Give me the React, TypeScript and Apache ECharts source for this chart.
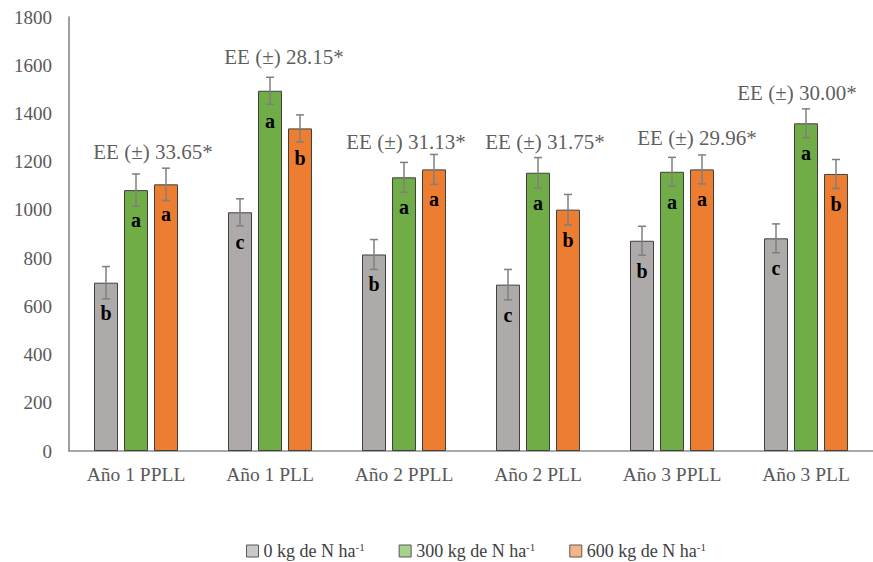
import React, { useEffect, useRef } from "react";
import * as echarts from "echarts";

const categories = ["Año 1 PPLL", "Año 1 PLL", "Año 2 PPLL", "Año 2 PLL", "Año 3 PPLL", "Año 3 PLL"];
const seriesNames = ["0 kg de N ha-1", "300 kg de N ha-1", "600 kg de N ha-1"];
const n0 = [698, 990, 815, 690, 872, 882];
const n300 = [1082, 1494, 1135, 1154, 1158, 1359];
const n600 = [1106, 1338, 1168, 1001, 1168, 1149];
const errors = [67, 56, 62, 63, 60, 60];
const letters0 = ["b", "c", "b", "c", "b", "c"];
const letters300 = ["a", "a", "a", "a", "a", "a"];
const letters600 = ["a", "b", "a", "b", "a", "b"];
const eeLabels = ["EE (±) 33.65*", "EE (±) 28.15*", "EE (±) 31.13*", "EE (±) 31.75*", "EE (±) 29.96*", "EE (±) 30.00*"];
const eeAnchor = [1240, 1634, 1283, 1283, 1298, 1486];
const yTicks = { min: 0, max: 1800, interval: 200 };

const eeShift = [17, 14, 2, 7, 25, -9];
const barColors = ["#AEAAAA", "#70AD47", "#ED7D31"];
const legendColors = ["#C9C9C9", "#A9D18E", "#F6B48A"];
const BAR_W = 24;
const GAP = 0.25;
const FONT = "'Liberation Serif', 'Times New Roman', serif";

export default function App() {
  const ref = useRef<HTMLDivElement>(null);
  useEffect(() => {
    if (!ref.current) return;
    const chart = echarts.init(ref.current, null, { renderer: "svg" });
    const values = [n0, n300, n600];
    const letters = [letters0, letters300, letters600];
    const barSeries = values.map((vals, k) => ({
      name: seriesNames[k],
      type: "bar",
      barWidth: BAR_W,
      barGap: `${GAP * 100}%`,
      data: vals,
      itemStyle: { color: barColors[k], borderColor: "#404040", borderWidth: 1 },
      label: {
        show: true,
        position: "insideTop",
        distance: 20,
        formatter: (p: any) => letters[k][p.dataIndex],
        fontFamily: FONT,
        fontWeight: "bold",
        fontSize: 20,
        color: "#000",
      },
      z: 2,
    }));
    const errData: number[][] = [];
    values.forEach((vals, k) => vals.forEach((v, i) => errData.push([i, v, errors[i], k])));
    const step = BAR_W * (1 + GAP);
    const option: any = {
      animation: false,
      textStyle: { fontFamily: FONT },
      grid: { left: 69, top: 17, width: 815, height: 434, containLabel: false },
      xAxis: {
        type: "category",
        data: categories,
        axisTick: { show: false },
        axisLine: { lineStyle: { color: "#8c8c8c", width: 1.5 } },
        axisLabel: { fontFamily: FONT, fontSize: 19.5, color: "#595959", margin: 13 },
      },
      yAxis: {
        type: "value",
        min: yTicks.min,
        max: yTicks.max,
        interval: yTicks.interval,
        splitLine: { show: false },
        axisTick: { show: false },
        axisLine: { show: true, lineStyle: { color: "#7f7f7f", width: 1.5 } },
        axisLabel: { fontFamily: FONT, fontSize: 19, color: "#595959", margin: 17, formatter: (v: number) => String(v) },
      },
      legend: {
        data: seriesNames.map((n, k) => ({ name: n, itemStyle: { color: legendColors[k] } })),
        left: 241,
        top: 536,
        icon: "rect",
        itemWidth: 12,
        itemHeight: 12,
        itemGap: 34,
        itemStyle: { borderColor: "#595959", borderWidth: 1 },
        formatter: (name: string) => `{n|${name.replace(/-1$/, "")}}{s|-1}`,
        textStyle: {
          color: "#404040",
          fontFamily: FONT,
          fontSize: 18,
          rich: {
            n: { fontFamily: FONT, fontSize: 18, color: "#404040", lineHeight: 20 },
            s: { fontFamily: FONT, fontSize: 11, color: "#404040", verticalAlign: "top", lineHeight: 12 },
          },
        },
      },
      series: [
        ...barSeries,
        {
          type: "custom",
          name: "err",
          z: 5,
          data: errData,
          renderItem: (params: any, api: any) => {
            const i = api.value(0);
            const v = api.value(1);
            const e = api.value(2);
            const k = api.value(3);
            const hi = api.coord([i, v + e]);
            const lo = api.coord([i, v - e]);
            const x = hi[0] + (k - 1) * step;
            const style = { stroke: "#7f7f7f", lineWidth: 1.5 };
            return {
              type: "group",
              children: [
                { type: "line", shape: { x1: x, y1: hi[1], x2: x, y2: lo[1] }, style },
                { type: "line", shape: { x1: x - 4, y1: hi[1], x2: x + 4, y2: hi[1] }, style },
                { type: "line", shape: { x1: x - 4, y1: lo[1], x2: x + 4, y2: lo[1] }, style },
              ],
            };
          },
        },
        {
          type: "scatter",
          name: "ee",
          symbolSize: 0,
          z: 6,
          data: eeAnchor.map((v, i) => ({
            value: [i, v],
            label: { offset: [eeShift[i], 0] },
          })),
          label: {
            show: true,
            position: "inside",
            formatter: (p: any) => eeLabels[p.dataIndex],
            fontFamily: FONT,
            fontSize: 21,
            color: "#333333",
          },
          silent: true,
        },
      ],
    };
    chart.setOption(option);
    return () => chart.dispose();
  }, []);
  return <div ref={ref} style={{ position: "absolute", left: 0, top: 0, width: 873, height: 562 }} />;
}
